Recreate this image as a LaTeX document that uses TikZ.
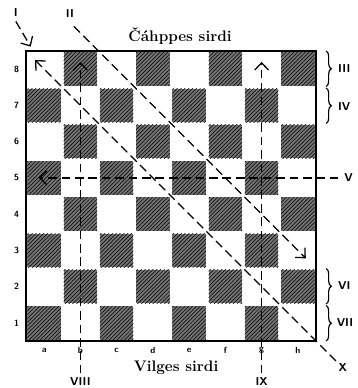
\documentclass[tikz,border=0pt]{standalone}
\usepackage{tikz}
\usetikzlibrary{arrows.meta,positioning,calc,decorations.pathreplacing,patterns}
\tikzset{
  dark/.style={fill=black!55, postaction={pattern=north east lines, pattern color=black}},
  dline/.style={dashed, dash pattern=on 2.4mm off 1.3mm, line width=1pt, black},
  arr/.style={-{Straight Barb[length=2mm, width=3.8mm, line width=1pt]}},
  num/.style={font=\sffamily\bfseries\small},
  coord/.style={font=\sffamily\bfseries\scriptsize},
  brc/.style={decorate, decoration={brace, amplitude=4pt}, line width=0.9pt},
}

\begin{document}
\begin{tikzpicture}[x=1cm, y=1cm]
\useasboundingbox (-0.717,-1.297) rectangle (9.159,9.407);
% squares
\foreach \f in {0,...,7}
  \foreach \r in {0,...,7} {
    \pgfmathtruncatemacro{\sqpar}{mod(\f+\r,2)}
    \ifnum\sqpar=0
      \fill[dark] (\f+0.04,\r+0.04) rectangle (\f+0.96,\r+0.96);
    \fi
  }
\draw[line width=1.6pt] (0,0) rectangle (8,8);
% coordinates round the board
\foreach \l [count=\i] in {a,b,c,d,e,f,g,h}
  \node[coord] (file\l) at (\i-0.5,-0.26) {\l};
\foreach \i in {1,...,8}
  \node[coord] (rank\i) at (-0.26,\i-0.5) {\i};
\node[font=\bfseries\large] (black) at (4.25,8.42) {Čáhppes sirdi};
\node[font=\bfseries\large] (white) at (4.14,-0.75) {Vilges sirdi};

% I
\node[num] (lI) at (-0.28,9.05) {I};
\coordinate (cI) at (0.13,8.12);
\draw[dline, arr] (lI.south) -- (cI);
% II
\node[num] (lII) at (1.21,9.04) {II};
\coordinate (sII) at (1.32,8.68);
\coordinate (eII) at (7.72,2.28);
\draw[dline, arr] (sII) -- (eII);
% long diagonal, X
\node[num] (lX) at (8.74,-0.72) {X};
\coordinate (sX) at (8.55,-0.55);
\coordinate (eX) at (0.25,7.75);
\draw[dline, arr] (sX) -- (eX);
% V
\node[num] (lV) at (8.9,4.5) {V};
\coordinate (sV) at (8.62,4.5);
\coordinate (eV) at (0.35,4.5);
\draw[dline, arr] (sV) -- (eV);
% VIII and IX
\node[num] (lVIII) at (1.5,-1.13) {VIII};
\node[num] (lIX) at (6.5,-1.13) {IX};
\coordinate (eVIII) at (1.5,7.7);
\coordinate (eIX) at (6.5,7.7);
\draw[dline, arr] (lVIII.north) -- (eVIII);
\draw[dline, arr] (lIX.north) -- (eIX);

% braces on the right
\draw[brc] (8.28,8.0) -- (8.28,7.02);
\draw[brc] (8.28,6.98) -- (8.28,6.0);
\draw[brc] (8.28,2.0) -- (8.28,1.02);
\draw[brc] (8.28,0.98) -- (8.28,0.0);
\node[num] (lIII) at (8.78,7.52) {III};
\node[num] (lIV) at (8.78,6.48) {IV};
\node[num] (lVI) at (8.78,1.54) {VI};
\node[num] (lVII) at (8.8,0.52) {VII};
\end{tikzpicture}
\end{document}
